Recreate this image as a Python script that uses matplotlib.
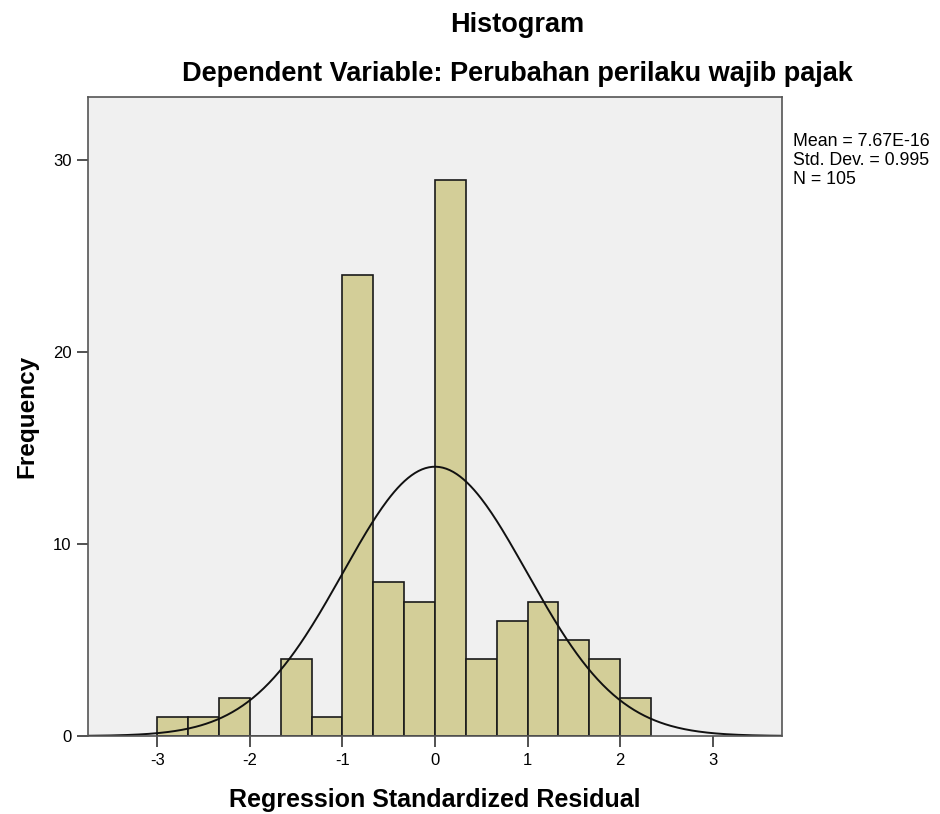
import numpy as np
import matplotlib.pyplot as plt

plt.rcParams['font.family'] = ['Liberation Sans', 'DejaVu Sans']

## data
bin_edges = np.arange(-3, 7/3 + 0.01, 1/3)
counts = [1, 1, 2, 0, 4, 1, 24, 8, 7, 29, 4, 6, 7, 5, 4, 2]
n_obs = 105
mean = 7.67e-16
sd = 0.995
x_ticks = [-3, -2, -1, 0, 1, 2, 3]
y_ticks = [0, 10, 20, 30]

fig = plt.figure(figsize=(9.4, 8.14), dpi=100)
ax = fig.add_axes([88/940, 78/814, 694/940, 639/814])
ax.set_facecolor('#F0F0F0')

width = bin_edges[1] - bin_edges[0]
ax.bar(bin_edges[:-1], counts, width=width, align='edge',
       color='#D3CE98', edgecolor='#1a1a1a', linewidth=1.2)

## normal curve
xs = np.linspace(-3.75, 3.75, 400)
ys = n_obs * width * np.exp(-0.5 * ((xs - mean) / sd) ** 2) / (sd * np.sqrt(2 * np.pi))
ax.plot(xs, ys, color='#111111', linewidth=1.4)

ax.set_xlim(-3.75, 3.75)
ax.set_ylim(0, 33.3)
ax.set_xticks(x_ticks)
ax.set_xticklabels([str(t) for t in x_ticks])
ax.set_yticks(y_ticks)
ax.tick_params(labelsize=12, length=8, width=1.2, color='#333333', pad=4)
for s in ax.spines.values():
    s.set_color('#555555')
    s.set_linewidth(1.2)

ax.set_xlabel('Regression Standardized Residual', fontsize=18, fontweight='bold')
ax.xaxis.set_label_coords(0.5, -0.082)
ax.set_ylabel('Frequency', fontsize=17.5, fontweight='bold')
ax.yaxis.set_label_coords(-0.072, 0.5)

fig.text(517/940, 1 - 25/814, 'Histogram', ha='center', va='center',
         fontsize=19.5, fontweight='bold')
fig.text(517/940, 1 - 74/814, 'Dependent Variable: Perubahan perilaku wajib pajak',
         ha='center', va='center', fontsize=19.5, fontweight='bold')

fig.text(793/940, 1 - 133/814,
         'Mean = %.2fE-16\nStd. Dev. = %.3f\nN = %d' % (mean * 1e16, sd, n_obs),
         ha='left', va='top', fontsize=12.8, linespacing=1.15)

fig.savefig('out.png', dpi=100)
